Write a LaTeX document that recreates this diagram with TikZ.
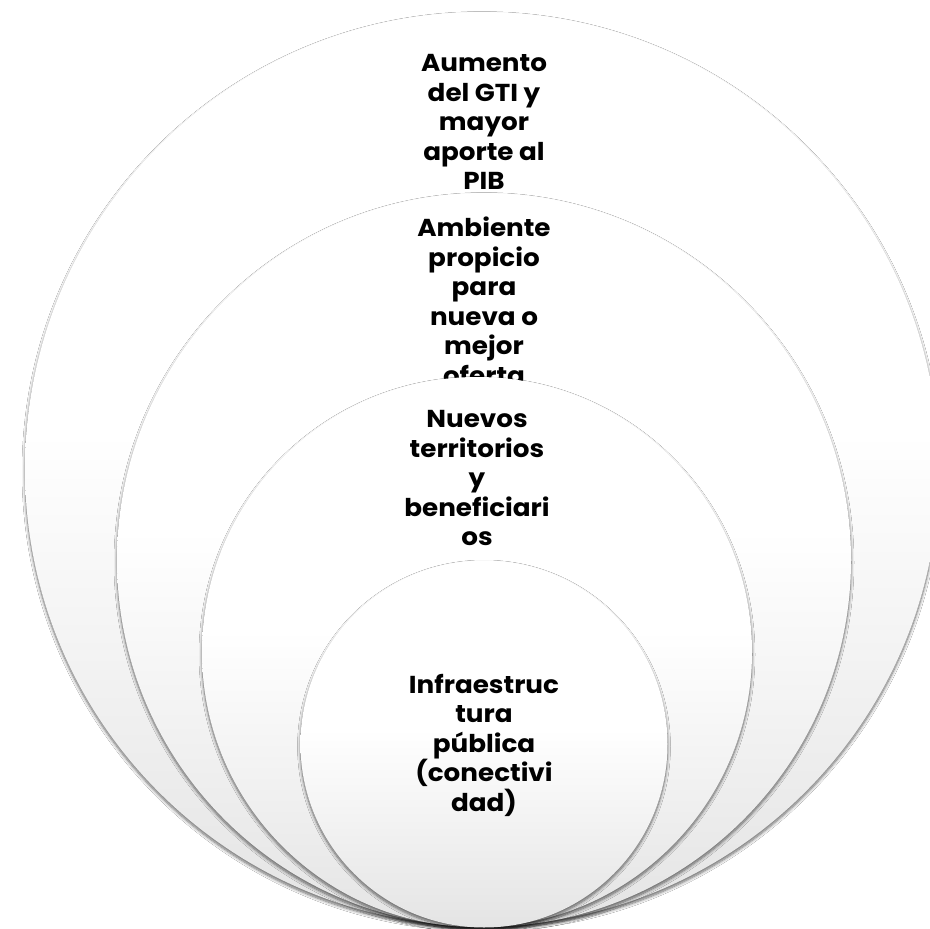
\documentclass[tikz,border=0pt]{standalone}
\usepackage{fontspec}
\setmainfont{Poppins}[FakeStretch=1.07]
\usetikzlibrary{shadows.blur}
\definecolor{botgray}{RGB}{228,228,228}
\pgfdeclareverticalshading{ringshade}{100bp}{color(0bp)=(botgray); color(25bp)=(botgray); color(52bp)=(white); color(100bp)=(white)}
\begin{document}
\begin{tikzpicture}[x=1pt,y=-1pt,
  ring/.style={circle, inner sep=0pt, minimum size=#1,
    shading=ringshade, draw=none,
    blur shadow={shadow xshift=0pt, shadow yshift=-2.5pt, shadow blur steps=8, shadow blur radius=3pt, shadow opacity=60}},
  lbl/.style={align=center, font=\fontsize{24.5}{29.5}\selectfont\bfseries, text=black, inner sep=0pt}]
\useasboundingbox[fill=white] (0,0) rectangle (930,929);
\node[ring=914pt] (c1) at (482,469) {};
\node[lbl] (t1) at (484,122) {Aumento\\del GTI y\\mayor\\aporte al\\PIB};
\node[ring=734pt] (c2) at (484,560) {};
\node[lbl] (t2) at (484,301) {Ambiente\\propicio\\para\\nueva o\\mejor\\oferta};
\node[ring=550pt] (c3) at (477,652) {};
\node[lbl] (t3) at (477,478) {Nuevos\\territorios\\y\\beneficiari\\os};
\node[ring=367pt] (c4) at (484,744) {};
\node[lbl] (t4) at (484,745) {Infraestruc\\tura\\pública\\(conectivi\\dad)};
\end{tikzpicture}
\end{document}
